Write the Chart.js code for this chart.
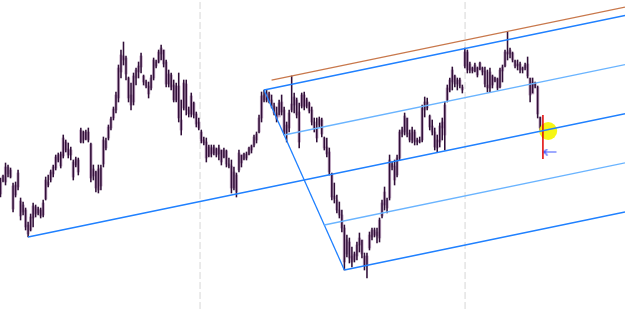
<!DOCTYPE html>
<html>
<head>
<meta charset="utf-8">
<script src="https://cdn.jsdelivr.net/npm/chart.js@4/dist/chart.umd.min.js"></script>
<style>
  html, body { margin: 0; padding: 0; background: #fff; overflow: hidden; }
  #chart { display: block; }
</style>
</head>
<body>
<canvas id="chart" width="625" height="309"></canvas>
<script>
// OHLC values (points), one entry per bar
const highs = [
  122,125,137,135,132,117,118,130,102,98,
  92,78,86,97,95,93,92,100,123,125,
  130,135,145,147,148,165,160,157,153,140,
  143,142,172,169,170,172,157,135,129,135,
  135,163,162,175,183,193,208,235,250,258,
  244,223,217,227,232,238,247,225,220,218,
  225,242,240,250,255,250,240,230,227,220,
  217,227,200,220,220,193,207,198,188,182,
  170,163,162,155,155,155,152,155,150,152,
  150,142,140,133,127,150,145,147,148,153,
  155,165,168,185,208,210,210,208,205,197,
  193,200,205,193,178,190,224,207,202,197,
  207,208,202,198,193,182,182,183,182,163,
  162,152,127,117,105,98,90,75,65,62,
  53,48,58,67,60,47,47,68,72,72,
  72,82,100,113,102,145,138,140,145,170,
  173,187,182,170,173,170,162,163,195,203,
  202,185,180,172,165,177,182,198,215,222,
  233,225,222,222,215,252,250,238,233,237,
  233,238,233,233,230,232,225,223,222,232,
  235,250,268,252,248,240,240,238,233,237,
  243,222,222,218,214,183
];
const lows = [
  103,118,115,123,122,88,103,110,80,85,
  70,63,69,73,83,85,82,83,100,113,
  118,123,130,138,132,142,148,142,140,120,
  133,125,157,157,160,158,118,120,108,107,
  110,133,150,160,170,180,187,198,222,235,
  220,198,190,195,215,222,227,215,212,202,
  210,220,232,237,240,233,213,213,210,198,
  198,178,165,190,185,183,183,182,173,170,
  157,155,138,143,143,145,143,140,135,142,
  133,132,107,110,103,128,133,140,140,145,
  147,153,157,167,178,198,198,197,192,185,
  178,185,185,165,158,168,188,187,182,152,
  192,190,192,187,175,168,158,173,163,150,
  143,125,100,97,87,82,68,30,43,37,
  33,38,40,48,42,30,22,50,60,63,
  57,58,82,90,87,100,130,115,123,140,
  163,165,163,158,157,155,155,157,158,183,
  190,170,165,150,148,153,160,150,198,208,
  210,213,210,212,207,232,227,227,227,228,
  223,230,225,213,208,208,212,218,210,212,
  218,233,240,242,238,232,230,227,227,230,
  222,198,207,212,182,170
];
const opens = [
  106,119,118,133,130,114,105,113,99,88,
  90,75,70,82,93,87,90,85,101,118,
  120,126,132,140,146,144,158,151,145,138,
  135,140,158,168,161,168,156,124,128,110,
  132,136,159,162,172,182,190,202,228,244,
  242,222,205,198,222,228,233,224,218,214,
  212,222,238,238,246,250,238,216,225,215,
  200,214,180,192,216,190,186,197,186,178,
  168,160,158,144,152,147,151,146,150,143,
  149,136,134,112,125,130,145,141,146,146,
  150,155,160,168,182,205,200,206,200,194,
  187,183,198,190,166,172,190,195,200,188,
  194,205,194,197,190,178,172,175,180,162,
  153,148,126,104,100,90,85,72,46,58,
  44,40,44,55,60,44,34,52,63,70,
  64,62,84,95,100,102,136,134,125,142,
  166,168,182,167,160,168,158,160,160,190,
  198,184,174,168,152,158,172,165,200,210,
  218,224,216,220,213,234,248,230,232,229,
  232,231,232,229,215,212,224,219,221,213,
  229,234,248,246,247,239,234,236,230,232,
  236,222,206,217,213,183
];
const closes = [
  118,124,133,126,123,91,115,127,84,95,
  73,66,83,94,86,91,84,97,120,115,
  128,133,143,145,134,162,150,145,150,123,
  141,128,170,160,168,160,122,131,112,131,
  114,160,152,173,181,191,205,232,245,240,
  226,202,195,224,230,234,244,218,214,206,
  222,240,234,248,252,236,216,226,213,200,
  214,182,170,217,190,186,204,185,176,172,
  159,157,142,153,146,153,145,152,138,150,
  136,134,112,128,108,147,137,146,142,152,
  154,163,166,182,204,200,207,199,194,187,
  181,197,188,168,175,187,196,203,185,158,
  205,193,200,189,178,171,162,181,166,152,
  146,128,103,101,90,85,72,38,60,42,
  38,46,55,62,46,34,44,65,70,65,
  68,80,97,108,92,140,133,120,142,168,
  170,184,166,160,170,158,160,158,192,198,
  192,173,168,153,160,174,178,195,212,220,
  230,216,220,214,210,248,230,236,229,235,
  225,237,228,216,212,228,215,222,212,230,
  233,248,246,250,240,234,236,230,232,235,
  224,205,218,214,186,172
];

// pitchfork pivots: bar index and price
const pivotBars = [11, 105, 137];
const pivotPrices = [63, 210, 30];
const warnBar = 116;      // high the brown parallel runs through
const warnStart = 108;
// period separators (bar positions)
const separators = [79.5, 185.1];
// current bar marker, target circle, arrow
const nowBar = 216.1;
const nowRange = [141, 185];
const target = { x: 218.2, y: 169 };
const arrowPos = { x: 218.9, y: 148 };

const X_MIN = -0.2, X_MAX = 248.8;
const Y_MIN = -9, Y_MAX = 300;

const blue = '#1f80ff';
const lightBlue = '#6ab4ff';

// pitchfork geometry from the pivots
const fork = pivotBars.map((b, k) => ({ x: b, y: pivotPrices[k] }));
const mid = { x: (fork[1].x + fork[2].x) / 2, y: (fork[1].y + fork[2].y) / 2 };
const slope = (mid.y - fork[0].y) / (mid.x - fork[0].x);

function ray(from) {
    return [from, { x: X_MAX, y: from.y + slope * (X_MAX - from.x) }];
}
function along(t) {
    return {
        x: fork[1].x + t * (fork[2].x - fork[1].x),
        y: fork[1].y + t * (fork[2].y - fork[1].y)
    };
}
function lineSet(data, color, width, extra) {
    return Object.assign({
        type: 'line', data: data, borderColor: color, borderWidth: width,
        pointRadius: 0, fill: false, tension: 0, order: 0
    }, extra || {});
}

const wickData = highs.map((h, i) => ({ x: i, y: [lows[i], h] }));
const bodyData = opens.map((o, i) => ({ x: i, y: [Math.min(o, closes[i]), Math.max(o, closes[i])] }));

const warnFrom = { x: warnStart, y: highs[warnBar] + slope * (warnStart - warnBar) };

// arrow icon
const arrowIcon = document.createElement('canvas');
arrowIcon.width = 15; arrowIcon.height = 7;
(function () {
    const g = arrowIcon.getContext('2d');
    g.strokeStyle = '#3c55ff';
    g.lineWidth = 1.2;
    g.beginPath();
    g.moveTo(1, 3.5); g.lineTo(14, 3.5);
    g.moveTo(1, 3.5); g.lineTo(5, 0.5);
    g.moveTo(1, 3.5); g.lineTo(5, 6.5);
    g.stroke();
})();

const datasets = [
    lineSet(ray(fork[0]), blue, 1.5),
    lineSet(ray(fork[1]), blue, 1.5),
    lineSet(ray(fork[2]), blue, 1.5),
    lineSet(ray(along(0.25)), lightBlue, 1.3),
    lineSet(ray(along(0.75)), lightBlue, 1.3),
    lineSet([fork[1], fork[2]], blue, 1.3),
    lineSet(ray(warnFrom), '#c8784c', 1.3),
    lineSet([{ x: nowBar, y: nowRange[0] }, { x: nowBar, y: nowRange[1] }], '#e00000', 1.5),
    {
        type: 'scatter', data: [arrowPos], pointStyle: arrowIcon,
        pointRadius: 7, order: 0
    },
    {
        type: 'scatter', data: [target], pointRadius: 9,
        backgroundColor: 'rgba(245,245,0,0.92)', borderWidth: 0, order: 1
    },
    {
        type: 'bar', data: wickData, backgroundColor: '#300e38',
        barThickness: 0.9, grouped: false, order: 2
    },
    {
        type: 'bar', data: bodyData, backgroundColor: 'rgba(150,100,152,0.5)',
        barThickness: 2.6, grouped: false, order: 3
    }
];
separators.forEach(s => {
    datasets.push(lineSet([{ x: s, y: Y_MIN }, { x: s, y: Y_MAX }], '#e6e6e6', 1.6,
        { borderDash: [7, 3], order: 5 }));
});

new Chart(document.getElementById('chart'), {
    type: 'bar',
    data: { datasets: datasets },
    options: {
        responsive: false,
        animation: false,
        devicePixelRatio: 1,
        layout: { padding: 0, autoPadding: false },
        plugins: { legend: { display: false }, tooltip: { enabled: false } },
        scales: {
            x: { type: 'linear', min: X_MIN, max: X_MAX, display: false, offset: false },
            y: { type: 'linear', min: Y_MIN, max: Y_MAX, display: false }
        }
    }
});
</script>
</body>
</html>
